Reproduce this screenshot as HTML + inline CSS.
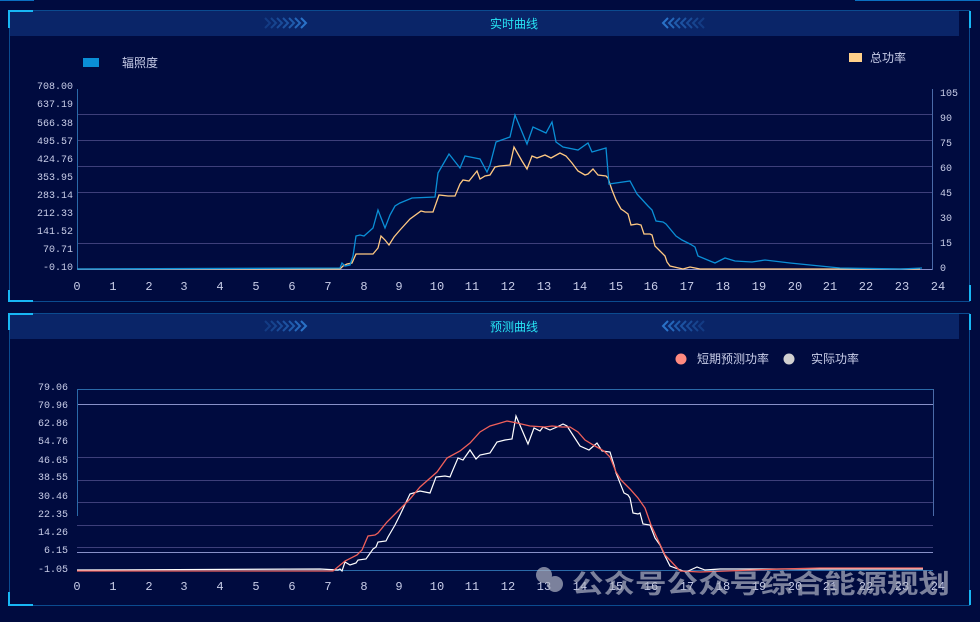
<!DOCTYPE html>
<html><head><meta charset="utf-8"><style>
html,body{margin:0;padding:0;background:#000b3f;}
svg{display:block;font-family:"Liberation Mono","Noto Sans CJK SC",monospace;}
</style></head><body>
<svg width="980" height="622" viewBox="0 0 980 622" xmlns="http://www.w3.org/2000/svg">
<defs>
<g id="chr"><path d="M0 0 L5 5 L0 10" fill="none" stroke-width="2"/></g>
<g id="chl"><path d="M5 0 L0 5 L5 10" fill="none" stroke-width="2"/></g>
</defs>
<rect width="980" height="622" fill="#000b3f"/>
<rect x="0" y="0" width="34" height="1" fill="#0a6fc0"/>
<rect x="855" y="0" width="127" height="1" fill="#0a6fc0"/>
<!-- Panel 1 -->
<rect x="9.5" y="10.5" width="960" height="291" fill="#000b3f" stroke="#0b4b8f" stroke-width="1"/>
<rect x="10" y="11" width="949" height="25" fill="#0a2568"/>
<path d="M9 28 V11 H33" fill="none" stroke="#18b7f5" stroke-width="2"/>
<path d="M9 290 V301 H33" fill="none" stroke="#18b7f5" stroke-width="2"/>
<path d="M970 11 V28" stroke="#18b7f5" stroke-width="2"/>
<path d="M970 285 V301" stroke="#18b7f5" stroke-width="2"/>
<text x="514" y="28" font-size="12" fill="#27e4f4" text-anchor="middle">实时曲线</text>
<g stroke="#2a72c8">
<use href="#chr" x="265" y="18" opacity="0.3"/><use href="#chr" x="271" y="18" opacity="0.4"/><use href="#chr" x="277" y="18" opacity="0.5"/><use href="#chr" x="283" y="18" opacity="0.6"/><use href="#chr" x="289" y="18" opacity="0.7"/><use href="#chr" x="295" y="18" opacity="0.85"/><use href="#chr" x="301" y="18"/>
<use href="#chl" x="663" y="18"/><use href="#chl" x="669" y="18" opacity="0.85"/><use href="#chl" x="675" y="18" opacity="0.7"/><use href="#chl" x="681" y="18" opacity="0.6"/><use href="#chl" x="687" y="18" opacity="0.5"/><use href="#chl" x="693" y="18" opacity="0.4"/><use href="#chl" x="699" y="18" opacity="0.3"/>
</g>
<rect x="83" y="58" width="16" height="9" fill="#0a8fd6"/>
<text x="122" y="67" font-size="12" fill="#c8cde8">辐照度</text>
<rect x="849" y="53" width="13" height="9" fill="#ffd08a"/>
<text x="870" y="62" font-size="12" fill="#c8cde8">总功率</text>
<g stroke="#3d3f7a" stroke-width="1">
<line x1="77" y1="114.5" x2="932" y2="114.5"/>
<line x1="77" y1="140.5" x2="932" y2="140.5"/>
<line x1="77" y1="166.5" x2="932" y2="166.5"/>
<line x1="77" y1="192.5" x2="932" y2="192.5"/>
<line x1="77" y1="243.5" x2="932" y2="243.5"/>
</g>
<line x1="77" y1="269.5" x2="932" y2="269.5" stroke="#8890c8"/>
<line x1="77.5" y1="89" x2="77.5" y2="270" stroke="#2a6aa8"/>
<line x1="932.5" y1="89" x2="932.5" y2="270" stroke="#4a6aa8"/>
<g font-size="10" fill="#c8cde8" text-anchor="end">
<text x="73" y="89">708.00</text><text x="73" y="107">637.19</text><text x="73" y="126">566.38</text>
<text x="73" y="144">495.57</text><text x="73" y="162">424.76</text><text x="73" y="180">353.95</text>
<text x="73" y="198">283.14</text><text x="73" y="216">212.33</text><text x="73" y="234">141.52</text>
<text x="73" y="252">70.71</text><text x="73" y="270">-0.10</text>
</g>
<g font-size="10" fill="#c8cde8">
<text x="940" y="96">105</text><text x="940" y="121">90</text><text x="940" y="146">75</text><text x="940" y="171">60</text>
<text x="940" y="196">45</text><text x="940" y="221">30</text><text x="940" y="246">15</text><text x="940" y="271">0</text>
</g>
<g font-size="12" fill="#c8cde8" text-anchor="middle">
<text x="77" y="290">0</text><text x="113" y="290">1</text><text x="149" y="290">2</text><text x="184" y="290">3</text><text x="220" y="290">4</text><text x="256" y="290">5</text><text x="292" y="290">6</text><text x="328" y="290">7</text><text x="364" y="290">8</text><text x="399" y="290">9</text><text x="437" y="290">10</text><text x="472" y="290">11</text><text x="508" y="290">12</text><text x="544" y="290">13</text><text x="580" y="290">14</text><text x="616" y="290">15</text><text x="651" y="290">16</text><text x="687" y="290">17</text><text x="723" y="290">18</text><text x="759" y="290">19</text><text x="795" y="290">20</text><text x="830" y="290">21</text><text x="866" y="290">22</text><text x="902" y="290">23</text><text x="938" y="290">24</text>
</g>
<polyline fill="none" stroke="#ffc982" stroke-width="1.3" points="77,269 340,269 343,266 347,264 352,263 356,254 373,254 378,248 381,236 385,240 389,245 394,237 400,230 410,219 421,211 425,212 433,212 439,195 448,196 455,196 460,184 463,180 469,181 477,171 480,179 485,176 490,175 495,167 500,166 510,165 514,147 522,161 527,169 532,156 537,158 545,155 551,158 560,153 566,156 572,163 578,171 585,175 588,174 593,169 598,175 606,176 608,178 612,190 616,200 621,209 624,211 628,214 631,225 637,224 641,225 644,234 650,234 652,235 655,246 665,256 667,262 670,266 683,269 690,267 695,268 700,269 920,269"/>
<polyline fill="none" stroke="#0a8fd6" stroke-width="1.3" points="77,269 340,268 342,263 345,266 350,265 353,256 356,236 360,235 364,236 373,228 378,210 385,228 390,215 395,206 400,203 412,198 435,197 438,173 449,154 460,168 465,156 480,159 487,172 490,165 496,142 510,137 515,115 527,144 533,127 546,133 552,122 556,142 563,147 578,150 588,143 592,152 606,148 609,184 630,181 637,194 648,206 652,210 656,221 663,222 666,224 676,236 682,240 690,244 695,247 698,256 710,261 715,263 725,258 735,261 752,262 765,260 790,263 820,266 840,268 900,269 922,268"/>
<!-- Panel 2 -->
<rect x="9.5" y="313.5" width="960" height="292" fill="#000b3f" stroke="#0b4b8f" stroke-width="1"/>
<rect x="10" y="314" width="949" height="25" fill="#0a2568"/>
<path d="M9 330 V314 H33" fill="none" stroke="#18b7f5" stroke-width="2"/>
<path d="M9 592 V605 H33" fill="none" stroke="#18b7f5" stroke-width="2"/>
<path d="M970 314 V330" stroke="#18b7f5" stroke-width="2"/>
<path d="M970 590 V605" stroke="#18b7f5" stroke-width="2"/>
<text x="514" y="331" font-size="12" fill="#27e4f4" text-anchor="middle">预测曲线</text>
<g stroke="#2a72c8">
<use href="#chr" x="265" y="321" opacity="0.3"/><use href="#chr" x="271" y="321" opacity="0.4"/><use href="#chr" x="277" y="321" opacity="0.5"/><use href="#chr" x="283" y="321" opacity="0.6"/><use href="#chr" x="289" y="321" opacity="0.7"/><use href="#chr" x="295" y="321" opacity="0.85"/><use href="#chr" x="301" y="321"/>
<use href="#chl" x="663" y="321"/><use href="#chl" x="669" y="321" opacity="0.85"/><use href="#chl" x="675" y="321" opacity="0.7"/><use href="#chl" x="681" y="321" opacity="0.6"/><use href="#chl" x="687" y="321" opacity="0.5"/><use href="#chl" x="693" y="321" opacity="0.4"/><use href="#chl" x="699" y="321" opacity="0.3"/>
</g>
<circle cx="681" cy="359" r="5.5" fill="#ff8a80"/>
<text x="697" y="363" font-size="12" fill="#c8cde8">短期预测功率</text>
<circle cx="789" cy="359" r="5.5" fill="#d0d0d0"/>
<text x="811" y="363" font-size="12" fill="#c8cde8">实际功率</text>
<g stroke="#3d3f7a" stroke-width="1">
<line x1="77" y1="457.5" x2="933" y2="457.5"/>
<line x1="77" y1="480.5" x2="933" y2="480.5"/>
<line x1="77" y1="502.5" x2="933" y2="502.5"/>
<line x1="77" y1="525.5" x2="933" y2="525.5"/>
<line x1="77" y1="547.5" x2="933" y2="547.5"/>
</g>
<line x1="77" y1="389.5" x2="933" y2="389.5" stroke="#2a6aa8"/>
<line x1="77" y1="404.5" x2="933" y2="404.5" stroke="#8890c8"/>
<line x1="77" y1="552.5" x2="933" y2="552.5" stroke="#8890c8"/>
<line x1="77" y1="570.5" x2="933" y2="570.5" stroke="#2a6aa8"/>
<line x1="77.5" y1="389" x2="77.5" y2="516" stroke="#2a6aa8"/>
<line x1="933.5" y1="389" x2="933.5" y2="516" stroke="#4a6aa8"/>
<g font-size="10" fill="#c8cde8" text-anchor="end">
<text x="68" y="390">79.06</text><text x="68" y="408">70.96</text><text x="68" y="426">62.86</text>
<text x="68" y="444">54.76</text><text x="68" y="463">46.65</text><text x="68" y="480">38.55</text>
<text x="68" y="499">30.46</text><text x="68" y="517">22.35</text><text x="68" y="535">14.26</text>
<text x="68" y="553">6.15</text><text x="68" y="572">-1.05</text>
</g>
<g font-size="12" fill="#c8cde8" text-anchor="middle">
<text x="77" y="590">0</text><text x="113" y="590">1</text><text x="149" y="590">2</text><text x="184" y="590">3</text><text x="220" y="590">4</text><text x="256" y="590">5</text><text x="292" y="590">6</text><text x="328" y="590">7</text><text x="364" y="590">8</text><text x="399" y="590">9</text><text x="437" y="590">10</text><text x="472" y="590">11</text><text x="508" y="590">12</text><text x="544" y="590">13</text><text x="580" y="590">14</text><text x="616" y="590">15</text><text x="651" y="590">16</text><text x="687" y="590">17</text><text x="723" y="590">18</text><text x="759" y="590">19</text><text x="795" y="590">20</text><text x="830" y="590">21</text><text x="866" y="590">22</text><text x="902" y="590">23</text><text x="938" y="590">24</text>
</g>
<polyline fill="none" stroke="#ffffff" stroke-width="1.2" points="77,570 320,569 338,570 340,569 342,571 345,562 350,565 356,563 358,560 366,559 373,549 376,547 378,542 386,541 388,537 395,525 400,515 410,494 420,491 430,493 436,477 445,476 450,477 452,472 458,458 463,460 470,450 476,459 480,455 490,453 497,442 505,440 512,439 516,416 528,444 534,428 540,431 543,427 550,430 557,427 563,424 567,426 580,446 589,450 597,443 602,451 610,452 614,465 616,473 624,493 628,495 630,498 633,513 638,514 640,513 643,524 650,525 655,538 660,545 665,556 670,566 686,572 697,567 705,570 720,569 780,569 923,569"/>
<polyline fill="none" stroke="#f0605a" stroke-width="1.3" points="77,571 333,571 345,561 357,555 362,550 368,536 375,535 378,533 387,522 400,509 410,499 420,487 437,472 447,458 460,451 470,443 480,432 490,426 497,424 507,421 517,423 530,426 545,427 552,426 562,427 570,427 578,432 585,440 595,446 604,451 610,457 616,472 621,480 630,489 638,498 645,508 651,525 658,540 665,555 680,571 700,572 780,569 820,568 923,568"/>
<g opacity="0.7">
<circle cx="544" cy="575" r="8" fill="#b0b4c4"/><circle cx="555" cy="584" r="8" fill="#b0b4c4"/>
<text x="572" y="593" font-size="26" font-weight="bold" fill="#b0b4c4" textLength="378" lengthAdjust="spacingAndGlyphs" font-family="Liberation Sans,'Noto Sans CJK SC',sans-serif">公众号公众号综合能源规划</text>
</g>
</svg>
</body></html>
